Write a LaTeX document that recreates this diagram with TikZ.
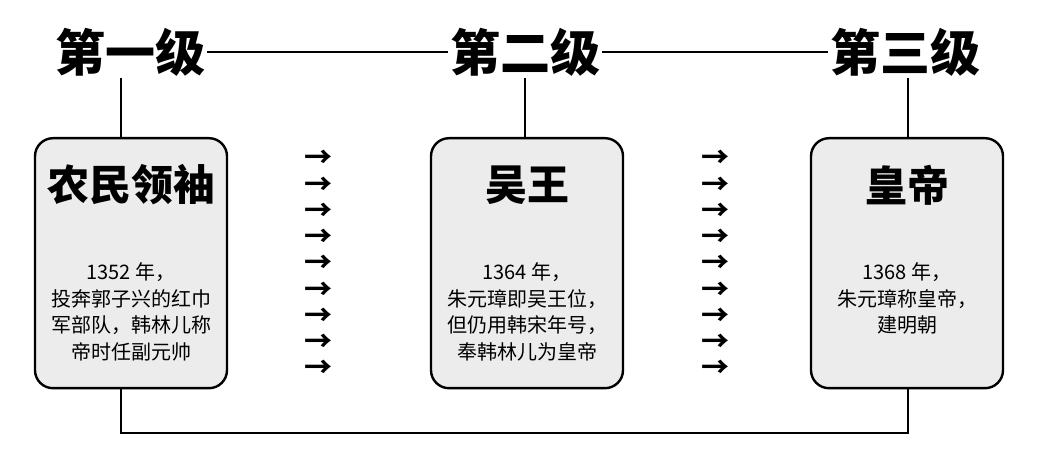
\documentclass[tikz,border=0pt]{standalone}
\usepackage{fontspec}
\newfontfamily\cjk{Noto Sans CJK SC}
\usepackage{tikz}
\usetikzlibrary{arrows.meta, positioning}
\tikzstyle{level} = [font=\cjk\bfseries\fontsize{25}{25}\selectfont, inner sep=1pt]
\tikzstyle{block} = [draw, line width=1.2pt, rounded corners=9pt, fill=gray!15, minimum width=96pt, minimum height=125pt, anchor=north]
\tikzstyle{title} = [font=\cjk\bfseries\fontsize{21}{21}\selectfont]
\tikzstyle{body} = [font=\cjk\fontsize{10}{13.2}\selectfont, align=center]
\tikzstyle{link} = [line width=1pt]
\tikzstyle{arrow} = [font=\cjk\bfseries\fontsize{14}{14}\selectfont, inner sep=0pt, text height=7pt, text depth=0pt]
\begin{document}
\begin{tikzpicture}[x=0.5pt, y=-0.5pt]
    \useasboundingbox (0,0) rectangle (1038,469);
    \node (lv1) [level] at (130,52) {第一级};
    \node (lv2) [level] at (525,52) {第二级};
    \node (lv3) [level] at (905,52) {第三级};
    \node (box1) [block] at (131,137) {};
    \node (box2) [block] at (527,137) {};
    \node (box3) [block] at (907,137) {};
    \node (t1) [title] at (131,185) {农民领袖};
    \node (t2) [title] at (527,185) {吴王};
    \node (t3) [title] at (907,185) {皇帝};
    \node (b1) [body, anchor=north] at (131,256) {1352 年，\\投奔郭子兴的红巾\\军部队，韩林儿称\\帝时任副元帅};
    \node (b2) [body, anchor=north] at (527,256) {1364 年，\\朱元璋即吴王位，\\但仍用韩宋年号，\\奉韩林儿为皇帝};
    \node (b3) [body, anchor=north] at (907,256) {1368 年，\\朱元璋称皇帝，\\建明朝};
    \coordinate (d1) at (121,433);
    \coordinate (d3) at (908,433);

    % Lines.
    \draw [link] (lv1) -- (lv2);
    \draw [link] (lv2) -- (lv3);
    \draw [link] (121,78) -- (121,137);
    \draw [link] (525,78) -- (525,137);
    \draw [link] (908,78) -- (908,137);
    \draw [link] (box1.south -| d1) -- (d1) -- (d3) -- (box3.south -| d3);

    % Arrows.
    \foreach \i in {0,...,8} {
        \node (a\i) [arrow] at (318,161+26.25*\i) {→};
        \node (c\i) [arrow] at (715,161+26.25*\i) {→};
    }
\end{tikzpicture}
\end{document}
